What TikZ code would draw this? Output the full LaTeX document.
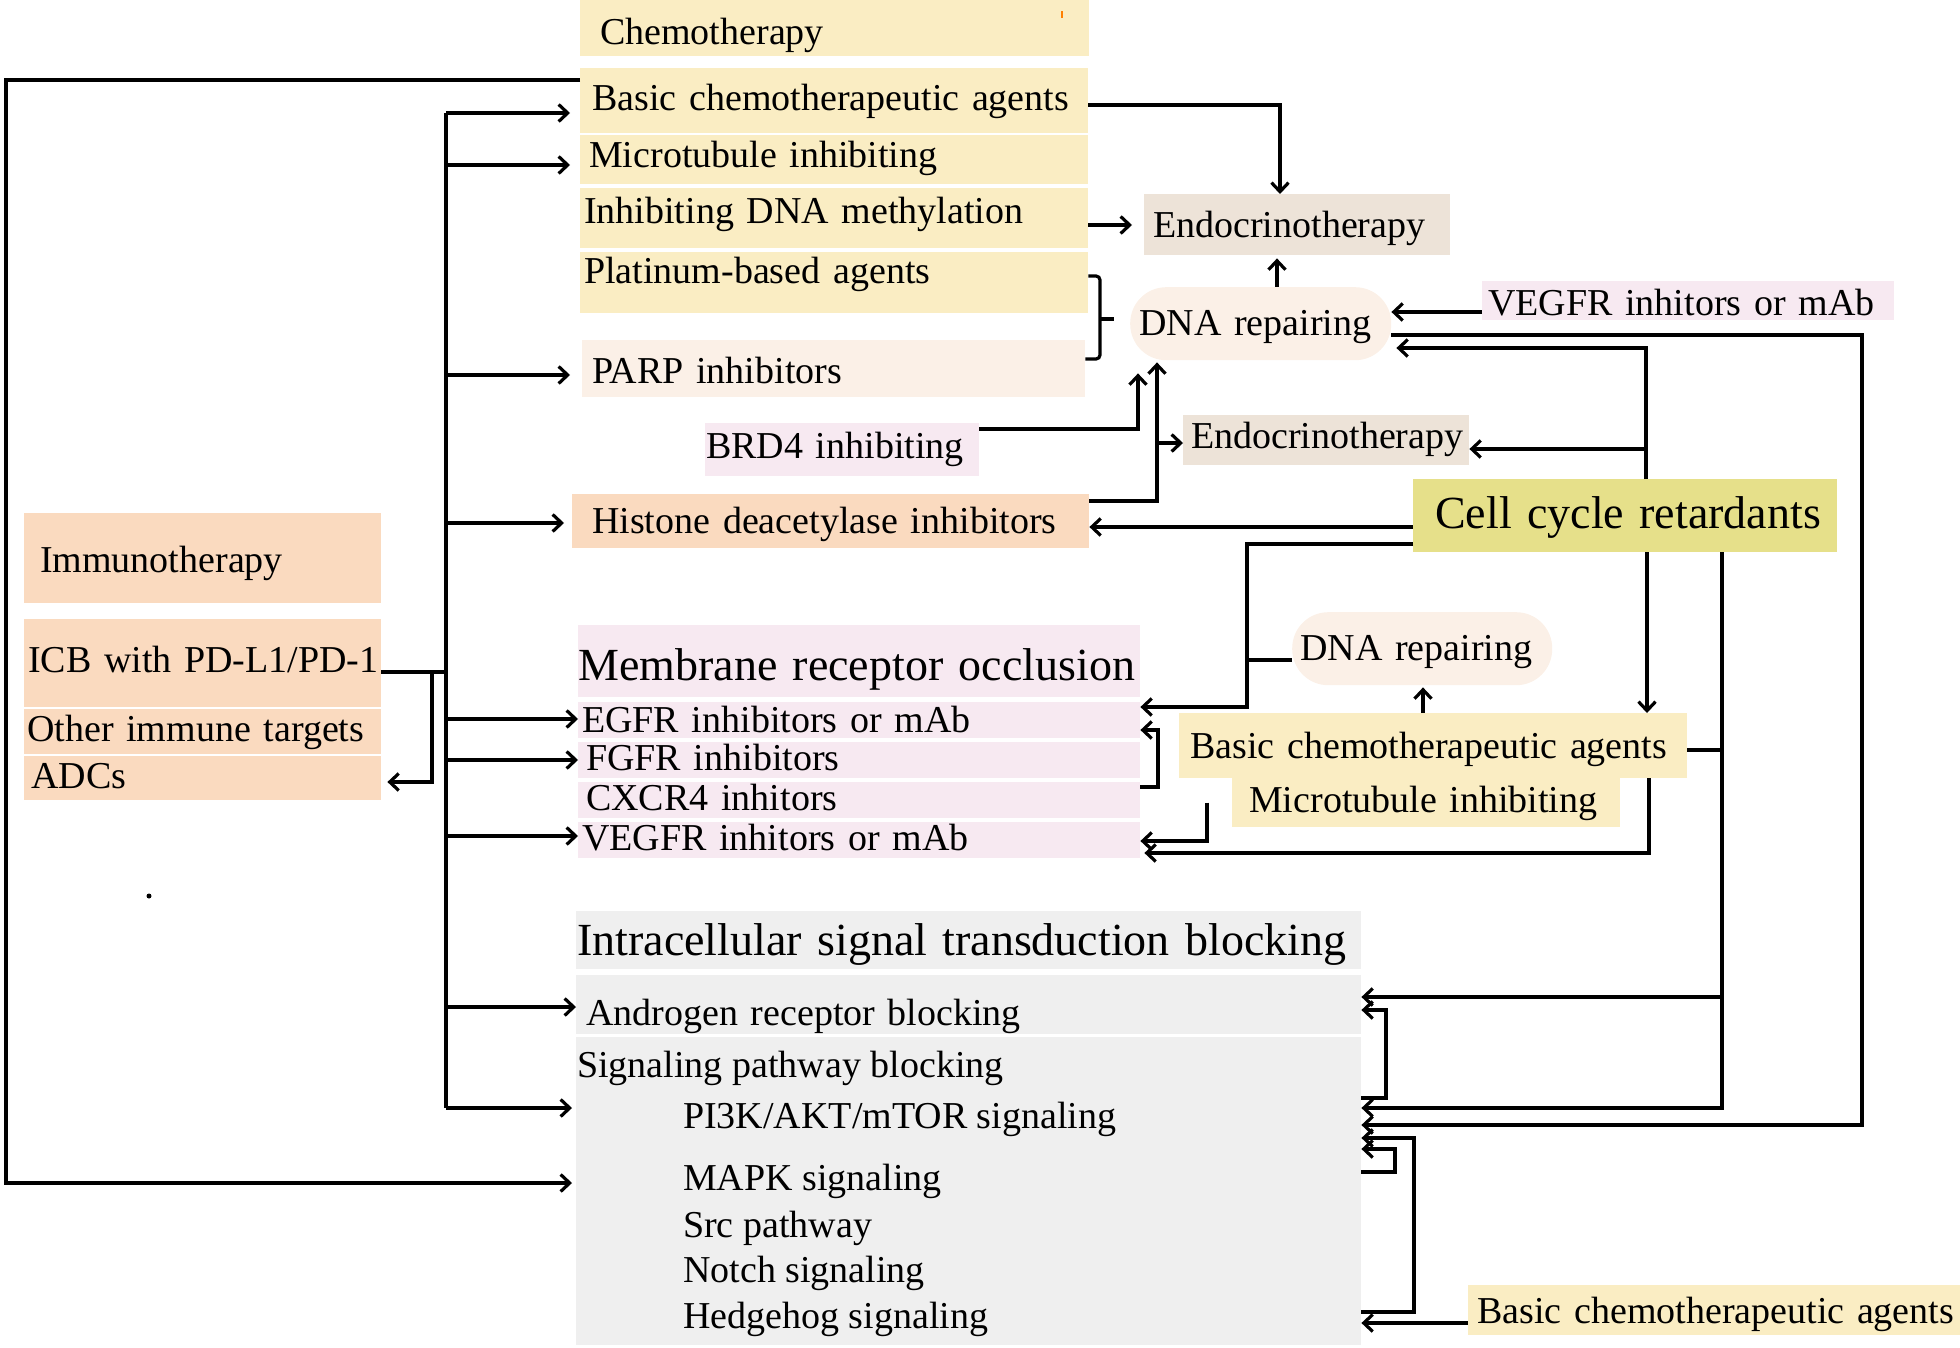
\documentclass[tikz,border=0pt]{standalone}
\usepackage{fontspec}
\setmainfont{Liberation Serif}
\usetikzlibrary{positioning,
        arrows.meta}
\usepackage{xcolor}
\definecolor{chemoY}{HTML}{FAEDC3}
\definecolor{repairC}{HTML}{FBF0E7}
\definecolor{endoC}{HTML}{EDE3D8}
\definecolor{pinkC}{HTML}{F7E9F1}
\definecolor{peachC}{HTML}{FADABF}
\definecolor{cellC}{HTML}{E6E08A}
\definecolor{greyC}{HTML}{EFEFEF}

\begin{document}
\begin{tikzpicture}[x=1pt,y=-1pt,
        bx/.style={anchor=north west,inner sep=0pt,align=left,text depth=0pt,
                font=\fontsize{38}{44}\selectfont},
        big/.style={font=\fontsize{46}{52}\selectfont},
        txt/.style={anchor=base west,inner sep=0pt,font=\fontsize{38}{44}\selectfont},
        line/.style={line width=3.2pt},
        arr/.style={line,-{Straight Barb[length=9pt,width=17pt]}}]
            \useasboundingbox (0,0) rectangle (1960,1348);

            % chemotherapy column
            \node [bx,fill=chemoY,text width=509pt,minimum height=56pt,text height=32pt] (chemo) at (580,0) {\hspace*{20pt}Chemotherapy};
            \node [bx,fill=chemoY,text width=508pt,minimum height=65pt,text height=19pt] (basic) at (580,68) {\hspace*{12pt}Basic chemotherapeutic agents};
            \node [bx,fill=chemoY,text width=508pt,minimum height=49pt,text height=15pt] (micro) at (580,135) {\hspace*{9pt}Microtubule inhibiting};
            \node [bx,fill=chemoY,text width=508pt,minimum height=60pt,text height=10pt] (dnamet) at (580,188) {\hspace*{4pt}Inhibiting DNA methylation};
            \node [bx,fill=chemoY,text width=508pt,minimum height=61pt,text height=1pt] (plat) at (580,252) {\hspace*{4pt}Platinum-based agents};
            \node [bx,fill=repairC,text width=503pt,minimum height=57pt,text height=29pt] (parp) at (582,340) {\hspace*{10pt}PARP inhibitors};
            \node [bx,fill=pinkC,text width=274pt,minimum height=53pt,text height=17pt] (brd) at (705,423) {\hspace*{1pt}BRD4 inhibiting};
            \node [bx,fill=peachC,text width=517pt,minimum height=54pt,text height=24pt] (hdac) at (572,494) {\hspace*{20pt}Histone deacetylase inhibitors};

            % upper right
            \node [bx,fill=endoC,text width=306pt,minimum height=61pt,text height=25pt] (endoA) at (1144,194) {\hspace*{9pt}Endocrinotherapy};
            \node [bx,fill=repairC,rounded corners=36pt,text width=261pt,minimum height=73pt,text height=23pt] (repA) at (1130,287) {\hspace*{9pt}DNA repairing};
            \node [bx,fill=pinkC,text width=412pt,minimum height=39pt,text height=29pt] (vegfA) at (1482,281) {\hspace*{6pt}VEGFR inhitors or mAb};
            \node [bx,fill=endoC,text width=286pt,minimum height=50pt,text height=16pt] (endoB) at (1183,415) {\hspace*{8pt}Endocrinotherapy};
            \node [bx,big,fill=cellC,text width=424pt,minimum height=73pt,text height=25pt] (ccr) at (1413,479) {\hspace*{22pt}Cell cycle retardants};

            % immunotherapy
            \node [bx,fill=peachC,text width=357pt,minimum height=90pt,text height=28pt] (immuno) at (24,513) {\hspace*{16pt}Immunotherapy};
            \node [bx,fill=peachC,text width=357pt,minimum height=88pt,text height=18pt] (icb) at (24,619) {\hspace*{4pt}ICB with PD-L1/PD-1};
            \node [bx,fill=peachC,text width=357pt,minimum height=45pt,text height=19pt] (other) at (24,709) {\hspace*{3pt}Other immune targets};
            \node [bx,fill=peachC,text width=357pt,minimum height=44pt,text height=20pt] (adc) at (24,756) {\hspace*{7pt}ADCs};
            \node [circle,fill,inner sep=0pt,minimum size=5pt] (dot) at (149,896) {};

            % membrane receptor occlusion
            \node [bx,big,fill=pinkC,text width=562pt,minimum height=72pt,text height=38pt] (mro) at (578,625) {Membrane receptor occlusion};
            \node [bx,fill=pinkC,text width=562pt,minimum height=36pt,text height=24pt] (egfr) at (578,702) {\hspace*{4pt}EGFR inhibitors or mAb};
            \node [bx,fill=pinkC,text width=562pt,minimum height=36pt,text height=20pt] (fgfr) at (578,742) {\hspace*{8pt}FGFR inhibitors};
            \node [bx,fill=pinkC,text width=562pt,minimum height=36pt,text height=20pt] (cxcr) at (578,782) {\hspace*{8pt}CXCR4 inhitors};
            \node [bx,fill=pinkC,text width=562pt,minimum height=36pt,text height=20pt] (vegfB) at (578,822) {\hspace*{4pt}VEGFR inhitors or mAb};

            % middle right
            \node [bx,fill=repairC,rounded corners=36pt,text width=260pt,minimum height=73pt,text height=23pt] (repB) at (1292,612) {\hspace*{8pt}DNA repairing};
            \node [bx,fill=chemoY,text width=508pt,minimum height=65pt,text height=25pt] (basicB) at (1179,713) {\hspace*{11pt}Basic chemotherapeutic agents};
            \node [bx,fill=chemoY,text width=388pt,minimum height=49pt,text height=19pt] (microB) at (1232,778) {\hspace*{17pt}Microtubule inhibiting};

            % intracellular signal transduction blocking
            \node [bx,big,fill=greyC,text width=785pt,minimum height=58pt,text height=30pt] (isb) at (576,911) {\hspace*{1pt}Intracellular signal transduction blocking};
            \node [bx,fill=greyC,text width=785pt,minimum height=59pt,text height=41pt] (ar) at (576,975) {\hspace*{10pt}Androgen receptor blocking};
            \node [bx,fill=greyC,minimum width=785pt,minimum height=308pt] (sigbox) at (576,1037) {};
            \node [txt] (sp) at (577,1077) {Signaling pathway blocking};
            \node [txt] (pi3k) at (683,1128) {PI3K/AKT/mTOR signaling};
            \node [txt] (mapk) at (683,1190) {MAPK signaling};
            \node [txt] (src) at (683,1237) {Src pathway};
            \node [txt] (notch) at (683,1282) {Notch signaling};
            \node [txt] (hh) at (683,1328) {Hedgehog signaling};
            \node [bx,fill=chemoY,text width=492pt,minimum height=50pt,text height=26pt] (basicC) at (1468,1285) {\hspace*{9pt}Basic chemotherapeutic agents};
            \fill [orange] (1061,11) rectangle (1063,18);

            % left bus
            \draw [arr,shorten >=4pt] (basic.west |- 0,80) -| (6,1183) -- (sigbox.west |- 0,1183);
            \draw [line] (icb.east |- 0,672) -- (446,672);
            \draw [arr,shorten >=6pt] (432,672) |- (adc.east |- 0,782);
            \draw [line] (446,113) -- (446,1108);
            \draw [arr,shorten >=10pt] (446,113) -- (basic.west |- 0,113);
            \draw [arr,shorten >=10pt] (446,165) -- (micro.west |- 0,165);
            \draw [arr,shorten >=12pt] (446,375) -- (parp.west |- 0,375);
            \draw [arr,shorten >=8pt] (446,523) -- (hdac.west |- 0,523);
            \draw [arr] (446,719) -- (egfr.west |- 0,719);
            \draw [arr] (446,760) -- (fgfr.west |- 0,760);
            \draw [arr] (446,836) -- (vegfB.west |- 0,836);
            \draw [arr] (446,1007) -- (ar.west |- 0,1007);
            \draw [arr,shorten >=4pt] (446,1108) -- (sigbox.west |- 0,1108);

            % chemotherapy to endocrinotherapy and DNA repairing
            \draw [arr] (basic.east |- 0,105) -| (endoA.north -| 1280,0);
            \draw [arr,shorten >=12pt] (dnamet.east |- 0,225) -- (endoA.west |- 0,225);
            \draw [line,rounded corners=4pt] (plat.east |- 0,276) -- (1100,276) -- (1100,359) -- (parp.east |- 0,359);
            \draw [line] (1100,319) -- ++(14,0);
            \draw [arr,shorten >=3pt] (repA.north -| 1277,0) -- (endoA.south -| 1277,0);
            \draw [arr] (vegfA.west |- 0,312) -- (repA.east |- 0,312);
            \draw [arr] (repA.east |- 0,335) -| (1862,1125) -- (sigbox.east |- 0,1125);
            \draw [arr,shorten >=2pt] (hdac.east |- 0,501) -| (repA.south -| 1157,0);
            \draw [arr] (1157,443) -- (endoB.west |- 0,443);
            \draw [arr,shorten >=13pt] (brd.east |- 0,429) -| (repA.south -| 1138,0);

            % cell cycle retardants
            \draw [arr,shorten >=5pt] (ccr.north -| 1646,0) |- (repA.east |- 0,348);
            \draw [arr] (1646,449) -- (endoB.east |- 0,449);
            \draw [arr] (ccr.west |- 0,527) -- (hdac.east |- 0,527);
            \draw [arr] (ccr.west |- 0,544) -| (1247,707) -- (egfr.east |- 0,707);
            \draw [line] (1247,660) -- (repB.west |- 0,660);
            \draw [arr] (ccr.south -| 1647,0) -- (basicB.north -| 1647,0);
            \draw [arr] (ccr.south -| 1722,0) |- (sigbox.east |- 0,1108);
            \draw [arr] (1722,997) -- (ar.east |- 0,997);
            \draw [line] (basicB.east |- 0,750) -- (1722,750);

            % membrane receptor block
            \draw [arr,shorten >=2pt] (basicB.north -| 1423,0) -- (repB.south -| 1423,0);
            \draw [arr] ([xshift=-25pt]microB.west) |- (vegfB.east |- 0,841);
            \draw [arr,shorten >=4pt] (basicB.south -| 1649,0) |- (vegfB.east |- 0,853);
            \draw [arr] (cxcr.east |- 0,787) -| (1158,730) -- (egfr.east |- 0,730);

            % signaling pathway block
            \draw [arr] (sigbox.east |- 0,1098) -| (1386,1010) -- (ar.east |- 0,1010);
            \draw [arr] (sigbox.east |- 0,1172) -| (1395,1149) -- (sigbox.east |- 0,1149);
            \draw [arr] (sigbox.east |- 0,1312) -| (1414,1138) -- (sigbox.east |- 0,1138);
            \draw [arr] (basicC.west |- 0,1323) -- (sigbox.east |- 0,1323);
        \end{tikzpicture}
\end{document}
